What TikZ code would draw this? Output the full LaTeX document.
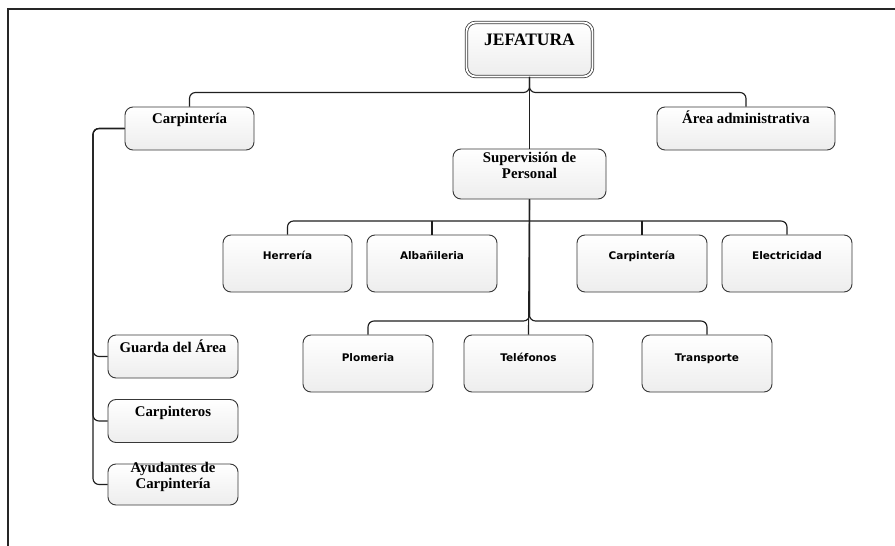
\documentclass[tikz,border=0pt]{standalone}
\usepackage{fontspec}
\newfontfamily\boxserif{Liberation Serif}
\newfontfamily\boxsans{DejaVu Sans}
\begin{document}
\begin{tikzpicture}[x=1pt,y=-1pt,
  frameline/.style={draw=black!85,line width=1.3pt},
  conn/.style={draw=black!88,line width=1.15pt,rounded corners=6pt},
  unit/.style={draw=black!78,line width=0.9pt,rounded corners=8pt,
    top color=white,bottom color=black!7,inner sep=0pt,align=center},
  serifunit/.style={unit,font=\boxserif\bfseries\fontsize{14.8}{15.5}\selectfont},
  sansunit/.style={unit,font=\boxsans\bfseries\fontsize{10.5}{12}\selectfont,minimum width=130pt},
  % vertical text placement inside each kind of box
  topunit/.style={serifunit,text height=16.5pt,text depth=26.5pt},
  supunit/.style={serifunit,text height=29pt,text depth=21pt,minimum width=153pt},
  rowtwo/.style={sansunit,text height=24pt,text depth=33pt},
  rowthree/.style={sansunit,text height=26pt,text depth=31pt},
  sideunit/.style={serifunit,text height=17pt,text depth=26pt,minimum width=130pt},
  sidetwo/.style={serifunit,text height=24pt,text depth=17pt,minimum width=130pt},
  headunit/.style={unit,double=white,double distance=1.8pt,line width=0.8pt,
    rounded corners=9pt,font=\boxserif\bfseries\fontsize{17.5}{19}\selectfont,
    text height=23pt,text depth=31pt,minimum width=126pt}]
\useasboundingbox (0,0) rectangle (895,546);
\fill[white] (0,0) rectangle (895,546);

% page frame
\draw[frameline] (8,546) -- (8,9) -- (895,9);

% head
\node[headunit] (jef) at (529.5,49.5) {JEFATURA};

% first level
\node[topunit,minimum width=129pt] (carpA) at (189.5,128.5) {Carpintería};
\node[topunit,minimum width=178pt] (area) at (746,128.5) {Área administrativa};
\node[supunit] (sup) at (529.5,174) {Supervisión de\\Personal};

% second level
\node[rowtwo,minimum width=129pt] (herr) at (287.5,263.5) {Herrería};
\node[rowtwo] (alb) at (432,263.5) {Albañileria};
\node[rowtwo] (carpB) at (642,263.5) {Carpintería};
\node[rowtwo] (elec) at (787,263.5) {Electricidad};

% third level
\node[rowthree] (plom) at (368,363.5) {Plomeria};
\node[rowthree,minimum width=129pt] (tel) at (528.5,363.5) {Teléfonos};
\node[rowthree] (trans) at (707,363.5) {Transporte};

% carpentry column
\node[sideunit] (guarda) at (173,356.5) {Guarda del Área};
\node[sideunit] (carpin) at (173,421) {Carpinteros};
\node[sidetwo] (ayud) at (173,484.5) {Ayudantes de\\Carpintería};

% bus lines
\coordinate (b1) at (0,92.5);
\coordinate (b2) at (0,221);
\coordinate (b3) at (0,321);
\coordinate (bl) at (93,0);

% head to first level
\draw[conn] (jef.south) -- (jef.south |- b1) -| (carpA.north);
\draw[conn] (jef.south) -- (jef.south |- b1) -| (area.north);
\draw[conn] (jef.south) -- (sup.north);

% supervision trunk and second level
\draw[conn] (sup.south) -- (tel.north);
\draw[conn] (herr.north) |- (elec.north |- b2) -- (elec.north);
\draw[conn] (alb.north) -- (alb.north |- b2);
\draw[conn] (carpB.north) -- (carpB.north |- b2);

% third level
\draw[conn] (sup.south) -- (sup.south |- b3) -| (plom.north);
\draw[conn] (sup.south) -- (sup.south |- b3) -| (trans.north);

% carpentry column
\draw[conn] (carpA.west) -- (carpA.west -| bl) |- (guarda.west);
\draw[conn] (carpA.west) -- (carpA.west -| bl) |- (carpin.west);
\draw[conn] (carpA.west) -- (carpA.west -| bl) |- (ayud.west);
\end{tikzpicture}
\end{document}
